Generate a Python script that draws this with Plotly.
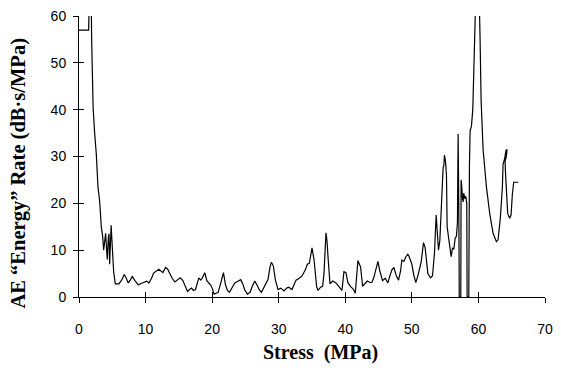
import plotly.graph_objects as go

# Stress (MPa) and AE "energy" rate (dB·s/MPa) along the loading path
stress = [
    0, 1.45, 1.6, 1.8, 1.9, 1.98, 2.05, 2.12, 2.35, 2.6, 2.85, 3.1, 3.35, 3.55, 3.7,
    3.85, 4.0, 4.15, 4.25, 4.4, 4.5, 4.6, 4.75, 4.83, 4.95, 5.07, 5.2, 5.45, 5.8, 6.0,
    6.4, 6.8, 7.1, 7.4, 7.7, 8.0, 8.4, 8.9, 9.5, 10.2, 10.5, 10.9, 11.2, 11.6, 12.0,
    12.6, 13.0, 13.3, 13.6, 14.0, 14.4, 14.8, 15.2, 15.6, 16.0, 16.3, 16.6, 16.9, 17.2,
    17.5, 18.0, 18.3, 18.5, 18.9, 19.2, 19.5, 19.8, 20.0, 20.3, 20.6, 20.9, 21.3, 21.7,
    22.0, 22.3, 22.6, 23.0, 23.4, 23.8, 24.3, 24.6, 24.9, 25.3, 25.7, 26.0, 26.4, 26.8,
    27.1, 27.4, 27.7, 28.0, 28.4, 28.7, 28.9, 29.2, 29.5, 29.9, 30.3, 30.8, 31.2, 31.5,
    32.0, 32.3, 32.6, 33.1, 33.5, 34.0, 34.3, 34.6, 35.0, 35.3, 35.5, 35.7, 35.9, 36.3,
    36.6, 36.8, 37.1, 37.25, 37.4, 37.7, 38.1, 38.6, 39.1, 39.5, 39.8, 40.1, 40.4, 40.8,
    41.2, 41.5, 41.9, 42.1, 42.3, 42.6, 43.0, 43.3, 43.7, 44.0, 44.3, 44.6, 44.9, 45.2,
    45.6, 46.0, 46.4, 46.7, 47.0, 47.3, 47.7, 48.0, 48.3, 48.5, 48.8, 49.1, 49.4, 49.6,
    50.0, 50.3, 50.6, 50.9, 51.1, 51.4, 51.75, 52.0, 52.4, 52.8, 53.1, 53.4, 53.65, 53.8,
    54.0, 54.2, 54.5, 54.7, 54.8, 54.9, 55.05, 55.2, 55.3, 55.5, 55.7, 55.9, 56.1, 56.3,
    56.5, 56.7, 56.85, 56.95, 57.05, 57.12, 57.35, 57.4, 57.5, 57.6, 57.7, 57.8, 57.95,
    58.1, 58.25, 58.3, 58.55, 58.65, 58.75, 58.95, 59.15, 59.3, 59.45, 59.6, 59.8, 60.0,
    60.25, 60.4, 60.7, 61.2, 61.7, 62.2, 62.7, 62.95, 63.3, 63.6, 63.7, 63.9, 64.15, 64.3,
    64.2, 64.0, 64.05, 64.2, 64.4, 64.7, 64.9, 65.1, 65.3, 66.0,
]
energy_rate = [
    57, 57, 68, 68, 55, 45, 41, 40.5, 35, 30.5, 23.5, 20.5, 15, 13, 10,
    12, 13.6, 10, 8, 12.5, 13.5, 7, 12, 15.3, 12, 8, 5.5, 2.8, 2.9, 2.8,
    3.6, 4.8, 4, 3, 3.6, 4.4, 3.5, 2.6, 3, 3.4, 3.0, 4, 5.1, 5.6, 5.9,
    5.2, 6.3, 6, 5, 4, 3.2, 3.6, 4.1, 3.5, 2.2, 1.2, 1.6, 1.9, 1.4,
    1.6, 4.1, 3.6, 4.0, 5.2, 3.5, 3.1, 2.5, 1.9, 0.6, 0.8, 1.0, 3.0, 5.2,
    2.6, 1.4, 1.0, 2.0, 3.0, 3.3, 3.7, 2.8, 1.5, 0.6, 1.0, 2.2, 3.4, 2.4,
    1.5, 1.0, 1.8, 2.8, 3.8, 6.5, 7.4, 6.6, 3.6, 1.6, 1.9, 1.3, 1.9, 2.1,
    1.6, 2.6, 3.6, 4.0, 4.5, 5.8, 7.0, 7.2, 10.5, 8, 4, 2.2, 1.4, 2.1,
    2.3, 5, 13.7, 12, 8.7, 2.8, 3.4, 3.0, 2.1, 1.4, 5.4, 5.2, 3.0, 2.2,
    1.7, 0.8, 7.8, 7.0, 6.4, 2.3, 3.0, 3.4, 3.1, 3.1, 4.2, 5.9, 7.6, 5.5,
    3.5, 4.0, 3.0, 4.5, 5.8, 6.3, 4.4, 3.6, 5.5, 7.9, 7.6, 8.6, 9.1, 8.6,
    7.0, 4.6, 3.1, 4.5, 5.5, 7.5, 11.6, 10.5, 5.0, 4.1, 4.5, 9.4, 17.5, 14,
    10, 12, 22, 27.7, 28, 30.3, 29, 26, 15, 13, 11, 8.6, 10.5, 10.2,
    12.5, 13, 16, 34.8, 20, 0, 0, 25, 23.5, 21, 20.3, 22.2, 21,
    21.5, 20, 0, 0, 28, 35.5, 36.5, 40, 48, 57, 65, 75, 72,
    55, 42, 31.5, 23.5, 17.8, 13.6, 11.8, 12.2, 17, 23.5, 28.4, 29.3, 31.3, 31.5,
    30, 29, 27, 22.8, 17.8, 16.8, 17.5, 22, 24.5, 24.5,
]

x_ticks = [0, 10, 20, 30, 40, 50, 60, 70]
y_ticks = [0, 10, 20, 30, 40, 50, 60]

tick_font = dict(family="Liberation Sans, Arial, sans-serif", size=14, color="black")
title_font = dict(family="Liberation Serif, Times New Roman, serif", size=20, color="black")

fig = go.Figure()
fig.add_trace(go.Scatter(
    x=stress, y=energy_rate, mode="lines",
    line=dict(color="black", width=1.2),
    showlegend=False, hoverinfo="skip",
))
# transparent anchor point so the companion axes (inner tick halves) get drawn
fig.add_trace(go.Scatter(x=stress[:1], y=energy_rate[:1], xaxis="x2", yaxis="y2",
                         mode="markers", marker=dict(opacity=0),
                         showlegend=False, hoverinfo="skip"))

axis_common = dict(showgrid=False, zeroline=False, showline=True,
                   linecolor="black", linewidth=1, tickcolor="black",
                   tickwidth=1, mirror=False)

fig.update_layout(
    width=561, height=371,
    margin=dict(l=79, r=8, t=14, b=73.5),
    paper_bgcolor="white", plot_bgcolor="white",
    xaxis=dict(range=[0, 70], tickvals=x_ticks, ticks="outside", ticklen=5,
               tickfont=tick_font, ticklabelstandoff=14, **axis_common),
    yaxis=dict(range=[0, 60], tickvals=y_ticks, ticks="outside", ticklen=5,
               tickfont=tick_font, ticklabelstandoff=4, **axis_common),
    # companion axes give the tick marks their inner half so they cross the axis lines
    xaxis2=dict(range=[0, 70], tickvals=x_ticks, ticks="inside", ticklen=5,
                showticklabels=False, overlaying="x", anchor="y2",
                side="bottom", **axis_common),
    yaxis2=dict(range=[0, 60], tickvals=y_ticks, ticks="inside", ticklen=5,
                showticklabels=False, overlaying="y", anchor="x2",
                side="left", **axis_common),
    annotations=[
        dict(text="<b>Stress\u00a0 (MPa)</b>", xref="paper", yref="paper",
             x=0.519, y=-0.199, showarrow=False, font=title_font,
             xanchor="center", yanchor="middle"),
        dict(text="<b>AE \u201cEnergy\u201d Rate (dB\u00b7s/MPa)</b>", xref="paper",
             yref="paper", x=-0.13, y=0.441, showarrow=False,
             font=dict(family=title_font["family"], size=20.5, color="black"),
             textangle=-90, xanchor="center", yanchor="middle"),
    ],
)

fig.write_html("out.html")
